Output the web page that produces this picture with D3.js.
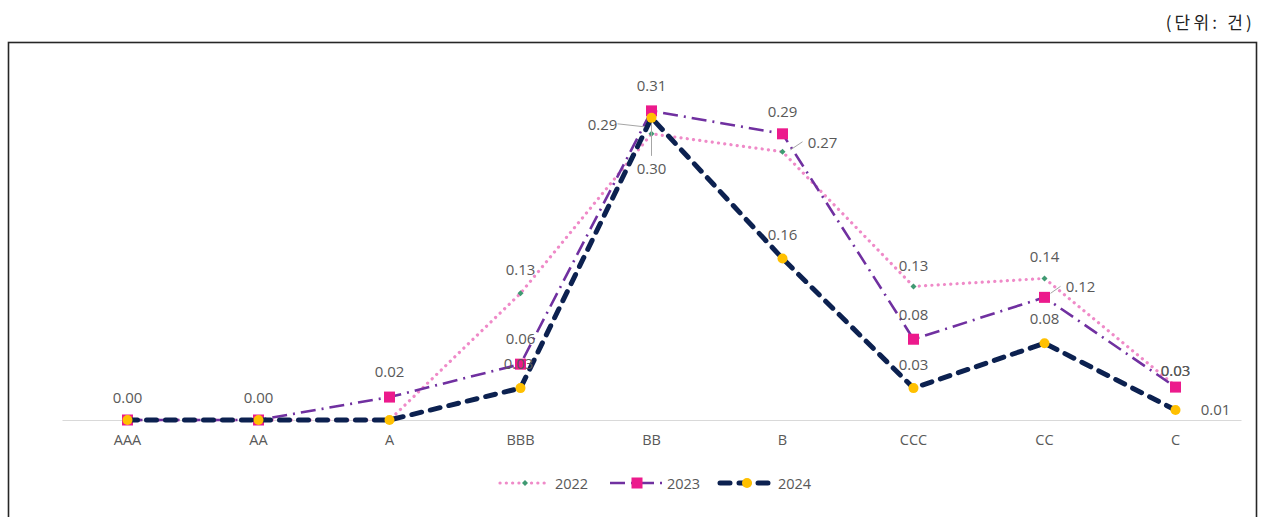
<!DOCTYPE html>
<html>
<head>
<meta charset="utf-8">
<script src="https://cdn.jsdelivr.net/npm/d3@7/dist/d3.min.js"></script>
<style>
  html, body { margin: 0; padding: 0; background: #fff; }
  svg { display: block; }
</style>
</head>
<body>
<svg id="chart" width="1265" height="517"></svg>
<script>
// Rating grades on the x axis
const categories = ["AAA", "AA", "A", "BBB", "BB", "B", "CCC", "CC", "C"];

// Per-grade values for each year
const values2022 = [0, 0, 0, 0.127, 0.287, 0.269, 0.134, 0.142, 0.034];
const values2023 = [0, 0, 0.023, 0.056, 0.31, 0.287, 0.081, 0.123, 0.033];
const values2024 = [0, 0, 0, 0.032, 0.303, 0.162, 0.032, 0.077, 0.01];

const seriesNames = ["2022", "2023", "2024"];
const unitLabel = "(단위: 건)";

const fmt = d3.format(".2f");
const svg = d3.select("#chart");
const font = "'Open Sans', 'Noto Sans CJK KR', sans-serif";
const textColor = "#595959";

// Outer frame
svg.append("rect")
  .attr("x", 8.5).attr("y", 42.5)
  .attr("width", 1248).attr("height", 490)
  .attr("fill", "none").attr("stroke", "#262626").attr("stroke-width", 1.6);

// Unit note
svg.append("text")
  .attr("x", 1255).attr("y", 21)
  .attr("text-anchor", "end").attr("dominant-baseline", "central")
  .attr("font-family", "'Noto Sans CJK KR', sans-serif")
  .attr("font-size", 17).attr("letter-spacing", 3.2).attr("fill", "#222")
  .text(unitLabel);

// Scales
const x = d3.scaleBand().domain(categories).range([62, 1241]).padding(0);
const cx = c => x(c) + x.bandwidth() / 2;
const y = d3.scaleLinear().domain([0, 0.35]).range([420, 71]);

// Category axis
const xAxis = d3.axisBottom(x).tickSize(0).tickPadding(15);
const gx = svg.append("g").attr("transform", `translate(0,${y(0)})`).call(xAxis);
gx.select(".domain").attr("stroke", "#d9d9d9").attr("stroke-width", 1.2);
gx.selectAll("text")
  .attr("font-family", font).attr("font-size", 14.5).attr("fill", textColor);

// Series styles
const series = [
  { name: seriesNames[0], values: values2022, stroke: "#ef8ac8", width: 3.2,
    dash: "0.1 6.2", cap: "round", marker: "diamond", mfill: "#3f9a72", msize: 5 },
  { name: seriesNames[1], values: values2023, stroke: "#7030a0", width: 2.6,
    dash: "15 6 2 6", cap: "butt", marker: "square", mfill: "#ec1a8c", msize: 11 },
  { name: seriesNames[2], values: values2024, stroke: "#0c2150", width: 5,
    dash: "10 9", cap: "round", marker: "circle", mfill: "#ffc000", msize: 10 }
];

const line = d3.line().x((d, i) => cx(categories[i])).y(d => y(d));

function drawMarker(g, s, px, py) {
  if (s.marker === "circle") {
    g.append("circle").attr("cx", px).attr("cy", py).attr("r", s.msize / 2).attr("fill", s.mfill);
  } else if (s.marker === "square") {
    g.append("rect").attr("x", px - s.msize / 2).attr("y", py - s.msize / 2)
      .attr("width", s.msize).attr("height", s.msize).attr("fill", s.mfill);
  } else {
    const r = s.msize / 2 + 0.5;
    g.append("path")
      .attr("d", `M${px},${py - r}L${px + r},${py}L${px},${py + r}L${px - r},${py}Z`)
      .attr("fill", s.mfill);
  }
}

series.forEach(s => {
  const g = svg.append("g");
  g.append("path").datum(s.values)
    .attr("d", line)
    .attr("fill", "none")
    .attr("stroke", s.stroke).attr("stroke-width", s.width)
    .attr("stroke-dasharray", s.dash).attr("stroke-linecap", s.cap)
    .attr("stroke-linejoin", "round");
  s.values.forEach((v, i) => drawMarker(g, s, cx(categories[i]), y(v)));
});

// Data label placement: [series index, category, dx, dy, leader line]
const labelPlacement = [
  [2, "AAA", 0, -23], [2, "AA", 0, -23],
  [1, "A", 0, -26],
  [0, "BBB", 0, -24], [1, "BBB", 0, -26], [2, "BBB", -2, -25],
  [1, "BB", 0, -26], [0, "BB", -49, -10, [[-34, -10], [-7, -7]]], [2, "BB", 0, 50, [[0, 6], [0, 38]]],
  [1, "B", 0, -23], [0, "B", 40, -10, [[8, -2], [20, -10]]], [2, "B", 0, -24],
  [0, "CCC", 0, -21], [1, "CCC", 0, -25], [2, "CCC", 0, -24],
  [0, "CC", 0, -22], [1, "CC", 36, -11, [[6, -4], [16, -11]]], [2, "CC", 0, -25],
  [0, "C", 0, -16], [1, "C", 0, -17],
  [2, "C", 40, -1]
];

const labels = svg.append("g");
labelPlacement.forEach(([si, cat, dx, dy, leader]) => {
  const s = series[si];
  const i = categories.indexOf(cat);
  const px = cx(cat), py = y(s.values[i]);
  if (leader) {
    labels.append("line")
      .attr("x1", px + leader[0][0]).attr("y1", py + leader[0][1])
      .attr("x2", px + leader[1][0]).attr("y2", py + leader[1][1])
      .attr("stroke", "#a6a6a6").attr("stroke-width", 1);
  }
  labels.append("text")
    .attr("x", px + dx).attr("y", py + dy)
    .attr("text-anchor", "middle").attr("dominant-baseline", "central")
    .attr("font-family", font).attr("font-size", 15).attr("fill", textColor)
    .text(fmt(s.values[i]));
});

// Legend
const legendPos = [
  { x0: 500, x1: 550, tx: 555 },
  { x0: 610, x1: 664, tx: 667 },
  { x0: 720, x1: 774, tx: 778 }
];
const ly = 483;
series.forEach((s, k) => {
  const p = legendPos[k];
  const g = svg.append("g");
  g.append("line")
    .attr("x1", p.x0).attr("x2", p.x1).attr("y1", ly).attr("y2", ly)
    .attr("stroke", s.stroke).attr("stroke-width", s.width)
    .attr("stroke-dasharray", s.dash).attr("stroke-linecap", s.cap);
  drawMarker(g, s, (p.x0 + p.x1) / 2, ly);
  g.append("text")
    .attr("x", p.tx).attr("y", ly)
    .attr("dominant-baseline", "central")
    .attr("font-family", font).attr("font-size", 14.5).attr("fill", textColor)
    .text(s.name);
});
</script>
</body>
</html>
